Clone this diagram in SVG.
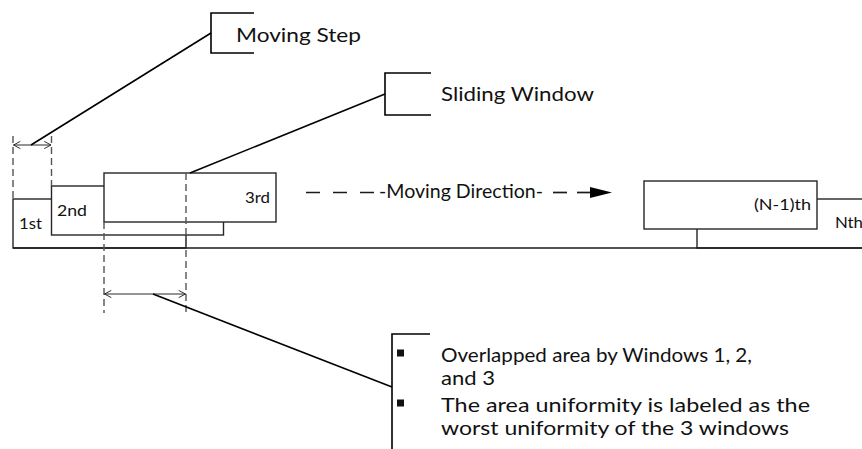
<svg xmlns="http://www.w3.org/2000/svg" width="862" height="449" viewBox="0 0 862 449">
  <defs>
    <style>
      .win { fill: #ffffff; stroke: #262626; stroke-width: 1.4; }
      .base { stroke: #1a1a1a; stroke-width: 1.7; fill: none; }
      .guide { stroke: #555555; stroke-width: 1.4; stroke-dasharray: 7 4; fill: none; }
      .dim { stroke: #2a2a2a; stroke-width: 1.2; fill: none; }
      .leader { stroke: #000000; stroke-width: 1.6; fill: none; }
      .bracket { stroke: #000000; stroke-width: 1.6; fill: none; }
      .lbl { font-family: Lato, "Open Sans", "Liberation Sans", sans-serif; fill: #111111; }
      .big { font-size: 20px; }
      .body { font-size: 19px; }
      .small { font-size: 15px; }
    </style>
    <marker id="openArrow" viewBox="0 0 10 10" refX="9.5" refY="5" markerWidth="8" markerHeight="10" markerUnits="userSpaceOnUse" orient="auto-start-reverse">
      <path d="M1,0.5 L9.5,5 L1,9.5" fill="none" stroke="#2a2a2a" stroke-width="1.2"/>
    </marker>
  </defs>

  <!-- windows along the track -->
  <g id="window-1">
    <rect class="win" x="13" y="199" width="173" height="49"/>
    <text class="lbl small" x="19" y="229" textLength="23" lengthAdjust="spacingAndGlyphs">1st</text>
  </g>
  <g id="window-2">
    <rect class="win" x="51.5" y="186" width="172" height="49"/>
    <text class="lbl small" x="57" y="215.5" textLength="30" lengthAdjust="spacingAndGlyphs">2nd</text>
  </g>
  <g id="window-3">
    <rect class="win" x="104" y="173" width="172" height="49"/>
    <text class="lbl small" x="245" y="203" textLength="25" lengthAdjust="spacingAndGlyphs">3rd</text>
  </g>
  <g id="window-n">
    <rect class="win" x="697" y="199" width="200" height="49"/>
    <text class="lbl small" x="835" y="228" textLength="28" lengthAdjust="spacingAndGlyphs">Nth</text>
  </g>
  <g id="window-n-1">
    <rect class="win" x="644" y="181" width="173" height="48"/>
    <text class="lbl small" x="754" y="210" textLength="57" lengthAdjust="spacingAndGlyphs">(N-1)th</text>
  </g>

  <!-- track line -->
  <g id="track">
    <line class="base" x1="13" y1="248" x2="862" y2="248"/>
  </g>

  <!-- callout labels -->
  <g id="label-moving-step">
    <path class="bracket" d="M254,13 H211 V53 H254"/>
    <text class="lbl big" x="236" y="41.5" textLength="125" lengthAdjust="spacingAndGlyphs">Moving Step</text>
  </g>
  <g id="label-sliding-window">
    <path class="bracket" d="M431,73 H385 V115 H431"/>
    <text class="lbl big" x="441" y="101" textLength="153" lengthAdjust="spacingAndGlyphs">Sliding Window</text>
  </g>
  <g id="label-moving-direction">
    <text class="lbl body" x="379" y="198" textLength="164" lengthAdjust="spacingAndGlyphs">-Moving Direction-</text>
  </g>
  <g id="label-overlap">
    <path class="bracket" d="M430,334 H392 V449"/>
    <rect x="397" y="349.5" width="7" height="7" fill="#111111"/>
    <rect x="397" y="399.5" width="7" height="7" fill="#111111"/>
    <text class="lbl body" x="441" y="361.5" textLength="311" lengthAdjust="spacingAndGlyphs">Overlapped area by Windows 1, 2,</text>
    <text class="lbl body" x="441" y="384.5" textLength="54" lengthAdjust="spacingAndGlyphs">and 3</text>
    <text class="lbl body" x="441" y="412" textLength="369" lengthAdjust="spacingAndGlyphs">The area uniformity is labeled as the</text>
    <text class="lbl body" x="441" y="435" textLength="348" lengthAdjust="spacingAndGlyphs">worst uniformity of the 3 windows</text>
  </g>

  <!-- connectors: guides, dimension arrows, leaders, direction arrow -->
  <g id="connectors">
    <line class="guide" x1="13" y1="136" x2="13" y2="199"/>
    <line class="guide" x1="51.5" y1="136" x2="51.5" y2="186"/>
    <line class="guide" x1="104" y1="222" x2="104" y2="313"/>
    <line class="guide" x1="186" y1="173" x2="186" y2="313"/>

    <line class="dim" x1="13.5" y1="145" x2="51" y2="145" marker-start="url(#openArrow)" marker-end="url(#openArrow)"/>
    <line class="dim" x1="104.5" y1="294" x2="185.5" y2="294" marker-start="url(#openArrow)" marker-end="url(#openArrow)"/>

    <line class="leader" x1="31" y1="145" x2="211" y2="33"/>
    <line class="leader" x1="190" y1="173" x2="385" y2="94"/>
    <line class="leader" x1="153" y1="294" x2="392" y2="387"/>

    <line class="base" x1="306" y1="192.5" x2="375" y2="192.5" stroke-dasharray="14 13"/>
    <line class="base" x1="553" y1="192.5" x2="567" y2="192.5"/>
    <line class="base" x1="577" y1="192.5" x2="591" y2="192.5"/>
    <path d="M590,187 L612,192.5 L590,198 Z" fill="#000000"/>
  </g>
</svg>
